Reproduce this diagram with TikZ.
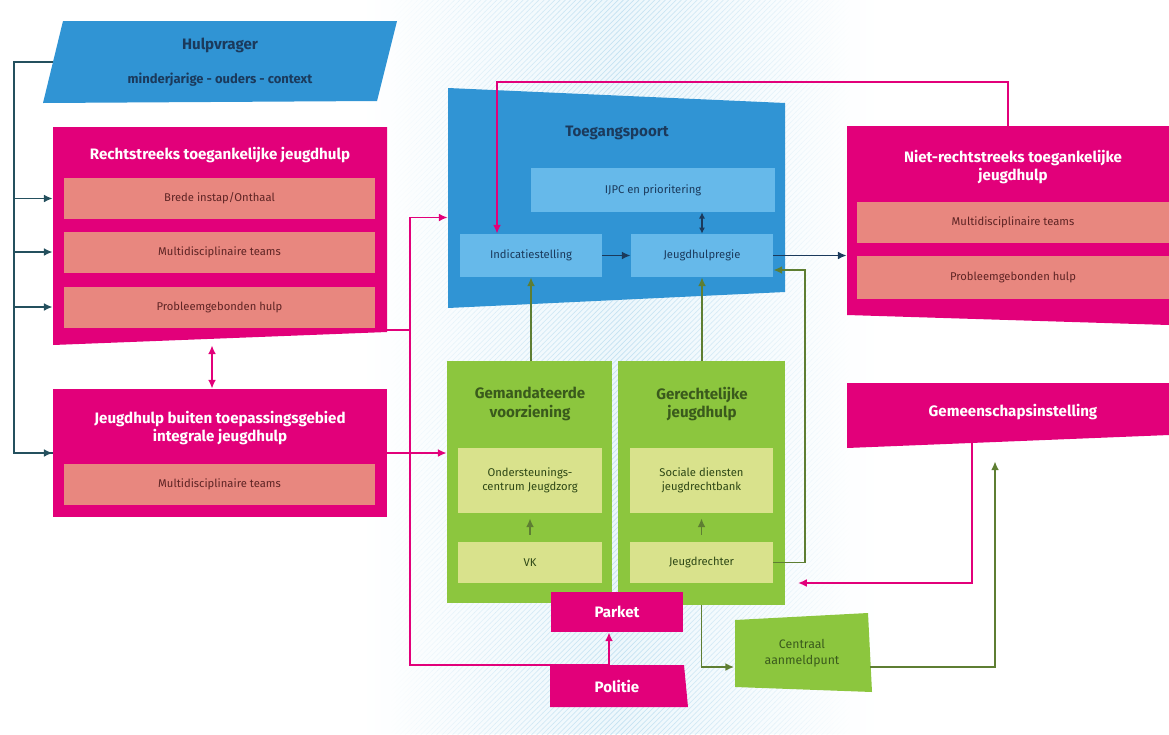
\documentclass[tikz,border=0pt]{standalone}
\usepackage{fontspec}
\setmainfont{Fira Sans}
\usepackage{xcolor}
\usetikzlibrary{positioning,calc,arrows.meta,patterns,fadings}
\definecolor{JHPink}{HTML}{E2007A}
\definecolor{JHSalmon}{HTML}{E8877F}
\definecolor{JHBrown}{HTML}{5E2424}
\definecolor{JHBlue}{HTML}{3094D4}
\definecolor{JHLightBlue}{HTML}{66B9EA}
\definecolor{JHNavy}{HTML}{1B3A5C}
\definecolor{JHGreen}{HTML}{8CC63E}
\definecolor{JHPale}{HTML}{D9E28C}
\definecolor{JHDarkGreen}{HTML}{3A5A1C}
\definecolor{JHOlive}{HTML}{5E7E32}
\definecolor{JHTeal}{HTML}{24505E}
\definecolor{JHBg}{HTML}{EDF7FC}
\definecolor{JHBgLine}{HTML}{C4E2F2}
\newcommand{\jhtitle}{\fontsize{8.6}{10.5}\selectfont\bfseries}
\newcommand{\jhsub}{\fontsize{6.4}{8}\selectfont}
\tikzfading[name=jhband, left color=transparent!100, right color=transparent!100, middle color=transparent!0]

\begin{document}
\begin{tikzpicture}[x=0.02cm, y=-0.02cm,
    every node/.style={inner sep=0pt, align=center},
    ptitle/.style={text=white, font=\jhtitle},
    gtitle/.style={text=JHDarkGreen, font=\jhtitle},
    salbox/.style={fill=JHSalmon, text=JHBrown, font=\jhsub, minimum height=0.82cm},
    bluebox/.style={fill=JHLightBlue, text=JHNavy, font=\jhsub, minimum height=0.86cm},
    palebox/.style={fill=JHPale, text=JHDarkGreen!80!black, font=\jhsub},
    tip/.style={-{Latex[length=5pt,width=4.5pt]}},
    tline/.style={draw=JHTeal, line width=1pt},
    nline/.style={draw=JHNavy, line width=1pt},
    pline/.style={draw=JHPink, line width=1pt},
    gline/.style={draw=JHOlive, line width=1pt}]
\useasboundingbox (0,0) rectangle (1169,734);

% achtergrond
\fill[JHBg, path fading=jhband] (360,0) rectangle (880,734);
\fill[pattern=north east lines, pattern color=JHBgLine, path fading=jhband] (390,0) rectangle (850,734);

% schuine vormen
\fill[JHBlue] (63,21) -- (397,21) -- (377,101) -- (43,103) -- cycle;
\fill[JHPink] (53,127) -- (387,127) -- (387,332) -- (53,345) -- cycle;
\fill[JHBlue] (448,88) -- (785,103) -- (785,292) -- (448,308) -- cycle;
\fill[JHPink] (847,126) -- (1169,126) -- (1169,325) -- (847,315) -- cycle;
\fill[JHPink] (847,383) -- (1169,383) -- (1169,435) -- (847,448) -- cycle;
\fill[JHPink] (550,665) -- (684,665) -- (688,707) -- (550,707) -- cycle;
\fill[JHGreen] (735,620) -- (868,613) -- (872,692) -- (735,687) -- cycle;

% links
\node[text=JHNavy, font=\jhtitle, minimum width=6.68cm, minimum height=1.64cm] (hv) at (220,62)
    {Hulpvrager\\[9pt]{\fontsize{7.4}{9}\selectfont minderjarige - ouders - context}};
\node[minimum width=6.68cm, minimum height=4.36cm] (rt) at (220,236) {};
\node[ptitle] (rtt) at (220,155) {Rechtstreeks toegankelijke jeugdhulp};
\node[salbox, minimum width=6.22cm] (rt1) at (219.5,198.5) {Brede instap/Onthaal};
\node[salbox, minimum width=6.22cm] (rt2) at (219.5,252) {Multidisciplinaire teams};
\node[salbox, minimum width=6.22cm] (rt3) at (219.5,307) {Probleemgebonden hulp};

\node[fill=JHPink, minimum width=6.68cm, minimum height=2.56cm] (bt) at (220,453) {};
\node[ptitle] (btt) at (220,428) {Jeugdhulp buiten toepassingsgebied\\integrale jeugdhulp};
\node[salbox, minimum width=6.22cm] (bt1) at (219.5,484.5) {Multidisciplinaire teams};

% midden
\node[minimum width=6.74cm, minimum height=4.1cm] (tp) at (616.5,197.5) {};
\node[text=JHNavy, font=\jhtitle] (tpt) at (617,133) {Toegangspoort};
\node[bluebox, minimum width=4.88cm, minimum height=0.88cm] (ijpc) at (653,190) {IJPC en prioritering};
\node[bluebox, minimum width=2.84cm] (ind) at (531,255.5) {Indicatiestelling};
\node[bluebox, minimum width=2.84cm] (reg) at (702,255.5) {Jeugdhulpregie};

\node[fill=JHGreen, minimum width=3.3cm, minimum height=4.84cm] (gv) at (529.5,482) {};
\node[gtitle] (gvt) at (530,404) {Gemandateerde\\voorziening};
\node[palebox, minimum width=2.88cm, minimum height=1.3cm] (gv1) at (530,480.5) {Ondersteunings-\\centrum Jeugdzorg};
\node[palebox, minimum width=2.88cm, minimum height=0.82cm] (gv2) at (530,562.5) {VK};

\node[fill=JHGreen, minimum width=3.34cm, minimum height=4.88cm] (gj) at (701.5,483) {};
\node[gtitle] (gjt) at (702,404) {Gerechtelijke\\jeugdhulp};
\node[palebox, minimum width=2.86cm, minimum height=1.3cm] (gj1) at (701.5,480.5) {Sociale diensten\\jeugdrechtbank};
\node[palebox, minimum width=2.86cm, minimum height=0.82cm] (gj2) at (701.5,562.5) {Jeugdrechter};

\node[fill=JHPink, ptitle, minimum width=2.64cm, minimum height=0.8cm] (pk) at (617,612) {Parket};
\node[ptitle, minimum width=2.68cm, minimum height=0.84cm] (po) at (617,686) {Politie};
\node[text=JHDarkGreen, font=\fontsize{7}{9}\selectfont, minimum width=2.7cm, minimum height=1.46cm] (ca) at (802,653)
    {Centraal\\aanmeldpunt};

% rechts
\node[minimum width=6.44cm, minimum height=3.88cm] (nr) at (1008,223) {};
\node[ptitle] (nrt) at (1013,167) {Niet-rechtstreeks toegankelijke\\jeugdhulp};
\node[salbox, minimum width=6.24cm] (nr1) at (1013,222.5) {Multidisciplinaire teams};
\node[salbox, minimum width=6.24cm, minimum height=0.86cm] (nr2) at (1013,277.5) {Probleemgebonden hulp};
\node[ptitle, minimum width=6.44cm, minimum height=1.16cm] (gi) at (1008,412) {\hspace*{0.2cm}Gemeenschapsinstelling};

% verbindingen
\draw[tline] (hv.west) -- ++(-39,0) coordinate (sp) |- (bt.west);
\draw[tline, tip] (sp |- bt.west) -- (bt.west);
\foreach \s in {rt1,rt2,rt3}
  \draw[tline, tip] (sp |- \s) -- (rt.west |- \s);

\draw[pline] ([yshift=0.3cm]rt.south east) -- ++(23,0) coordinate (pj);
\draw[pline, tip] (pj) |- ([yshift=-0.4cm]tp.west);
\draw[pline, tip] (pj) |- ([xshift=-0.16cm]po.north) -- ([xshift=-0.16cm]pk.south);
\draw[pline, tip] (bt.east) -- (bt.east -| gv.west);
\draw[pline, {Latex[length=5pt,width=4.5pt]}-{Latex[length=5pt,width=4.5pt]}]
  ([xshift=-0.16cm]rt.south) -- ([xshift=-0.16cm]bt.north);
\draw[pline, tip] (nr.north) -- ++(0,-44) -| ([xshift=-0.68cm]ind.north);
\coordinate (gin) at (798,583);
\draw[pline, tip] ([xshift=-0.72cm]gi.south) |- (gin);

\draw[nline, tip] (ind) -- (reg);
\draw[nline, {Latex[length=3.5pt,width=3.5pt]}-{Latex[length=3.5pt,width=3.5pt]}] (reg.north |- ijpc.south) -- (reg.north);
\draw[nline, tip] (reg.east) -- (reg.east -| nr.west);

\draw[gline, tip] (ind.south |- gv.north) -- (ind.south);
\draw[gline, tip] (reg.south |- gj.north) -- (reg.south);
\draw[gline, tip] (gj2.east) -- ++(32,0) |- ([yshift=-0.29cm]reg.east);
\draw[gline, tip] (gj.south) |- ([yshift=-0.28cm]ca.west);
\draw[gline, tip, shorten >=0.4cm] ([yshift=-0.28cm]ca.east) -| ([xshift=-0.26cm]gi.south);
\draw[gline, tip, shorten <=0.14cm, shorten >=0.1cm] (gv2) -- (gv1);
\draw[gline, tip, shorten <=0.14cm, shorten >=0.1cm] (gj2) -- (gj1);
\end{tikzpicture}
\end{document}
